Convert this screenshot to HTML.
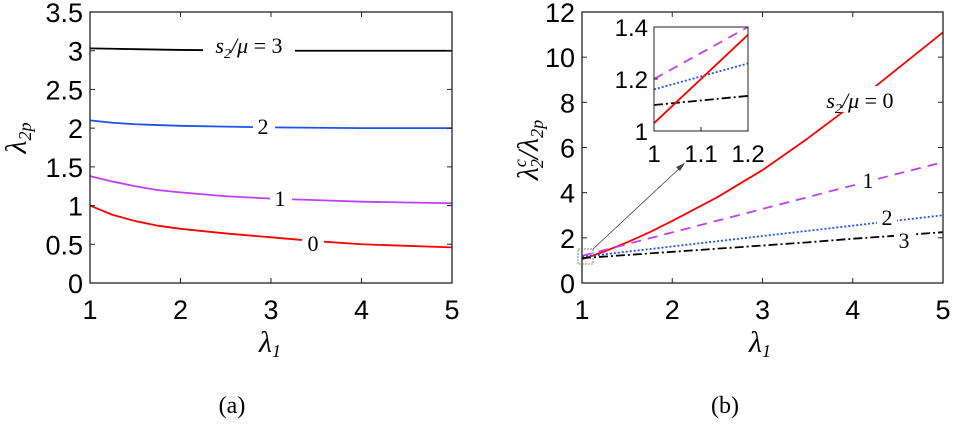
<!DOCTYPE html>
<html><head><meta charset="utf-8"><style>
body{margin:0;background:#fff;}
svg{display:block;}
</style></head><body>
<svg id="s" width="953" height="424"></svg>
<script>
const xs=[1,1.25,1.5,1.75,2,2.5,3,3.5,4,4.5,5];
const aS0=[1.0,0.88,0.8,0.74,0.7,0.64,0.59,0.54,0.5,0.48,0.46];
const aS1=[1.38,1.31,1.25,1.2,1.17,1.12,1.09,1.07,1.05,1.04,1.03];
const aS2=[2.1,2.07,2.05,2.04,2.03,2.02,2.01,2.005,2.0,2.0,2.0];
const aS3=[3.03,3.025,3.02,3.015,3.01,3.005,3.0,3.0,3.0,3.0,3.0];
const bS0=[1.05,1.4,1.8,2.25,2.75,3.8,5.0,6.4,7.9,9.5,11.1];
const bS1=[1.2,1.46,1.72,1.98,2.24,2.76,3.28,3.8,4.32,4.84,5.35];
const bS2=[1.16,1.27,1.39,1.5,1.62,1.85,2.08,2.31,2.54,2.77,3.0];
const bS3=[1.1,1.17,1.24,1.31,1.38,1.52,1.66,1.8,1.96,2.1,2.25];
const insX=[1,1.2];
const iS0=[1.03,1.37];
const iS1=[1.2,1.4];
const iS2=[1.16,1.26];
const iS3=[1.1,1.135];
const xTicks=[1,2,3,4,5];
const aYTicks=[0,0.5,1,1.5,2,2.5,3,3.5];
const bYTicks=[0,2,4,6,8,10,12];
const NS="http://www.w3.org/2000/svg";
const svg=document.getElementById('s');
const SANS='"Liberation Sans", sans-serif', SERIF='"Liberation Serif", serif';
function mk(t,a,p){const e=document.createElementNS(NS,t);for(const k in a)e.setAttribute(k,a[k]);(p||svg).appendChild(e);return e;}
function axes(x0,x1,y0,y1,X0,X1,Y0,Y1){return {x:v=>x0+(v-X0)/(X1-X0)*(x1-x0),y:v=>y0-(v-Y0)/(Y1-Y0)*(y0-y1)};}
function line(ax,X,Y,col,dash,nm){
 const pts=X.map((v,i)=>[ax.x(v),ax.y(Y[i])]);
 const p=mk('polyline',{points:pts.map(q=>q.join(',')).join(' '),fill:'none',stroke:col,'stroke-width':1.8,'stroke-dasharray':dash||'none','stroke-linejoin':'round'});
 
 
}
function mask(x,y,w,h){const r=mk('rect',{x:x,y:y,width:w,height:h,fill:'#fff'});
 
 }
function txt(x,y,s,ff,st,size,anchor,nm,extra){const t=mk('text',Object.assign({x:x,y:y,'font-family':ff,'font-style':st,'font-size':size,'text-anchor':anchor||'middle'},extra||{}));t.innerHTML=s;
 
 return t;}
const TS=27;
// Panel a
const A=axes(90,452,283,12,1,5,0,3.5);
line(A,xs,aS0,'#f00','','curve-a-s0');
line(A,xs,aS1,'#c040f0','','curve-a-s1');
line(A,xs,aS2,'#2050f0','','curve-a-s2');
line(A,xs,aS3,'#000','','curve-a-s3');
mask(203,35,92,22);mask(253,115,22,22);mask(270,187,22,22);mask(302,231,22,22);
txt(249,53,'s<tspan font-size="14" dy="5">2</tspan><tspan dy="-5">/μ</tspan><tspan font-style="normal"> = 3</tspan>',SERIF,'italic',22,'middle','label-a-s3');
txt(263,134,'2',SERIF,'normal',22,'middle','label-a-s2');
txt(280,206,'1',SERIF,'normal',22,'middle','label-a-s1');
txt(313,251,'0',SERIF,'normal',22,'middle','label-a-s0');
mk('rect',{x:90,y:12,width:362,height:271,fill:'none',stroke:'#222','stroke-width':1.3});
xTicks.forEach(v=>{const x=A.x(v);mk('line',{x1:x,y1:283,x2:x,y2:278,stroke:'#222'});mk('line',{x1:x,y1:12,x2:x,y2:17,stroke:'#222'});txt(x,319,v,SANS,'normal',TS,'middle','x-tick-a');});
aYTicks.forEach(v=>{const y=A.y(v);mk('line',{x1:90,y1:y,x2:95,y2:y,stroke:'#222'});mk('line',{x1:452,y1:y,x2:447,y2:y,stroke:'#222'});txt(83,y+10,v,SANS,'normal',TS,'end','y-tick-a');});
txt(270,352,'λ<tspan font-size="18" dy="5">1</tspan>',SERIF,'italic',30,'middle','x-axis-title-a');
txt(0,0,'λ<tspan font-size="18" dy="5">2p</tspan>',SERIF,'italic',30,'middle','y-axis-title-a',{transform:'translate(26,138) rotate(-90)'});
txt(232,413,'(a)',SERIF,'normal',24,'middle','panel-label-a');
// Panel b
const B=axes(582,943,283,12,1,5,0,12);
line(B,xs,bS0,'#f00','','curve-b-s0');
line(B,xs,bS1,'#c040f0','10,7','curve-b-s1');
line(B,xs,bS2,'#2050f0','2,2','curve-b-s2');
line(B,xs,bS3,'#000','9,3,2,3','curve-b-s3');
mask(815,86,92,26);mask(858,170,20,22);mask(877,206,20,22);mask(894,228,20,22);
txt(860,108,'s<tspan font-size="14" dy="5">2</tspan><tspan dy="-5">/μ</tspan><tspan font-style="normal"> = 0</tspan>',SERIF,'italic',22,'middle','label-b-s0');
txt(868,188,'1',SERIF,'normal',22,'middle','label-b-s1');
txt(887,225,'2',SERIF,'normal',22,'middle','label-b-s2');
txt(904,248,'3',SERIF,'normal',22,'middle','label-b-s3');
mk('rect',{x:582,y:12,width:361,height:271,fill:'none',stroke:'#222','stroke-width':1.3});
xTicks.forEach(v=>{const x=B.x(v);mk('line',{x1:x,y1:283,x2:x,y2:278,stroke:'#222'});mk('line',{x1:x,y1:12,x2:x,y2:17,stroke:'#222'});txt(x,319,v,SANS,'normal',TS,'middle','x-tick-b');});
bYTicks.forEach(v=>{const y=B.y(v);mk('line',{x1:582,y1:y,x2:587,y2:y,stroke:'#222'});mk('line',{x1:943,y1:y,x2:938,y2:y,stroke:'#222'});txt(575,y+10,v,SANS,'normal',TS,'end','y-tick-b');});
txt(760,352,'λ<tspan font-size="18" dy="5">1</tspan>',SERIF,'italic',30,'middle','x-axis-title-b');
txt(0,0,'λ<tspan font-size="18" dy="-12">c</tspan><tspan font-size="18" dx="-9" dy="17">2</tspan><tspan dy="-5">/λ</tspan><tspan font-size="18" dy="5">2p</tspan>',SERIF,'italic',30,'middle','y-axis-title-b',{transform:'translate(538,150) rotate(-90)'});
txt(725,413,'(b)',SERIF,'normal',24,'middle','panel-label-b');
// zoom box & arrow
mk('rect',{x:578,y:249,width:15,height:15,fill:'none',stroke:'#666','stroke-width':0.8,'stroke-dasharray':'2,1'});
mk('line',{x1:593,y1:249,x2:682,y2:166,stroke:'#444','stroke-width':0.8});
mk('polygon',{points:'685,163 676,167 680,171',fill:'#444'});
// inset
const I=axes(654,748,131,27,1,1.2,1,1.4);
mk('rect',{x:654,y:27,width:94,height:104,fill:'#fff'});
line(I,insX,iS1,'#c040f0','10,7','inset-s1');
line(I,insX,iS2,'#2050f0','2,2','inset-s2');
line(I,insX,iS3,'#000','9,3,2,3','inset-s3');
line(I,insX,iS0,'#f00','','inset-s0');
mk('rect',{x:654,y:27,width:94,height:104,fill:'none',stroke:'#222','stroke-width':1});
[1,1.1,1.2].forEach(v=>{const x=I.x(v);mk('line',{x1:x,y1:131,x2:x,y2:127,stroke:'#222'});txt(x,162,v,SANS,'normal',24,'middle','inset-x-tick');});
[1,1.2,1.4].forEach(v=>{const y=I.y(v);mk('line',{x1:654,y1:y,x2:658,y2:y,stroke:'#222'});txt(648,y+9,v,SANS,'normal',24,'end','inset-y-tick');});
</script>
</body></html>
